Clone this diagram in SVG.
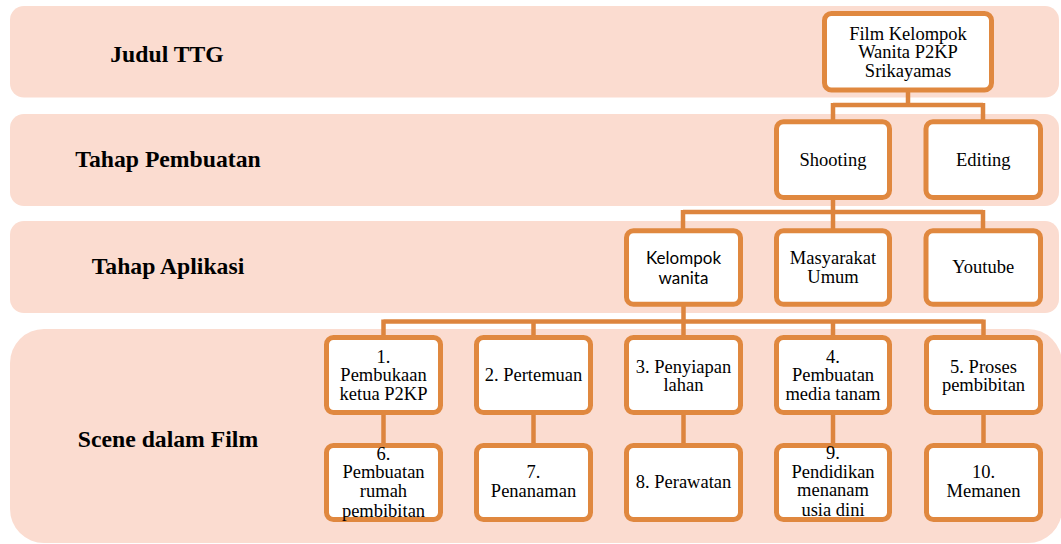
<svg xmlns="http://www.w3.org/2000/svg" width="1061" height="544" viewBox="0 0 1061 544">
<style>
.band{fill:#FBDCD0}
.lbl{font-family:"Liberation Serif","Times New Roman",serif;font-weight:bold;font-size:23.7px;fill:#000;text-anchor:middle}
.box{fill:#fff;stroke:#E0883F;stroke-width:5}
.t{font-family:"Liberation Serif","Times New Roman",serif;font-size:18.5px;fill:#000;text-anchor:middle}
.s{font-family:Lato,"Open Sans",sans-serif;font-size:17px;fill:#000;text-anchor:middle}
.con{fill:none;stroke:#DD853E;stroke-width:4.5}
</style>
<rect width="1061" height="544" fill="#fff"/>
<g id="bands">
<rect class="band" x="10" y="6" width="1049" height="91.5" rx="14"/>
<rect class="band" x="10" y="114" width="1049" height="92" rx="14"/>
<rect class="band" x="10" y="221" width="1049" height="92" rx="14"/>
<rect class="band" x="10" y="329" width="1052" height="214" rx="34"/>
</g>
<g id="labels">
<text class="lbl" x="167" y="61.5">Judul TTG</text>
<text class="lbl" x="168" y="167">Tahap Pembuatan</text>
<text class="lbl" x="168" y="273.5">Tahap Aplikasi</text>
<text class="lbl" x="168" y="447">Scene dalam Film</text>
</g>
<g id="connectors">
<path class="con" d="M908 92V105M833 105H983M833 103V120M983 103V120"/>
<path class="con" d="M833 200V212M683 212H983M683 210V229M833 210V229M983 210V229"/>
<path class="con" d="M683.5 306V321.5M383.5 321.5H983.5M383.5 319.5V336M533.5 319.5V336M683.5 319.5V336M833 319.5V336M983.5 319.5V336"/>
<path class="con" d="M383.5 415V444M533.5 415V444M683.5 415V444M833 415V444M983.5 415V444"/>
</g>
<g id="n-film">
<rect class="box" x="824.5" y="13.5" width="167" height="76.5" rx="7"/>
<text class="t" x="908" y="39.5">Film Kelompok</text>
<text class="t" x="908" y="58.3">Wanita P2KP</text>
<text class="t" x="908" y="77">Srikayamas</text>
</g>
<g id="n-shooting">
<rect class="box" x="776.5" y="121.8" width="113" height="75.7" rx="7"/>
<text class="t" x="833" y="166.3">Shooting</text>
</g>
<g id="n-editing">
<rect class="box" x="926" y="121.8" width="114.5" height="75.7" rx="7"/>
<text class="t" x="983.3" y="166.3">Editing</text>
</g>
<g id="n-kelompok">
<rect class="box" x="626.5" y="230.8" width="114" height="73.4" rx="7"/>
<text class="s" x="683.5" y="263.5">Kelompok</text>
<text class="s" x="683.5" y="284">wanita</text>
</g>
<g id="n-masyarakat">
<rect class="box" x="776.5" y="230.8" width="113" height="73.4" rx="7"/>
<text class="t" x="833" y="263.5">Masyarakat</text>
<text class="t" x="833" y="282.5">Umum</text>
</g>
<g id="n-youtube">
<rect class="box" x="926" y="230.8" width="114.5" height="73.4" rx="7"/>
<text class="t" x="983.3" y="273.3">Youtube</text>
</g>
<g id="n-1">
<rect class="box" x="326.5" y="337.5" width="114" height="75" rx="7"/>
<text class="t" x="383.5" y="362.7">1.</text>
<text class="t" x="383.5" y="381.3">Pembukaan</text>
<text class="t" x="383.5" y="400">ketua P2KP</text>
</g>
<g id="n-2">
<rect class="box" x="476.5" y="337.5" width="114" height="75" rx="7"/>
<text class="t" x="533.5" y="381">2. Pertemuan</text>
</g>
<g id="n-3">
<rect class="box" x="626.5" y="337.5" width="114" height="75" rx="7"/>
<text class="t" x="683.5" y="372.5">3. Penyiapan</text>
<text class="t" x="683.5" y="391.3">lahan</text>
</g>
<g id="n-4">
<rect class="box" x="776.5" y="337.5" width="113" height="75" rx="7"/>
<text class="t" x="833" y="362.7">4.</text>
<text class="t" x="833" y="381.3">Pembuatan</text>
<text class="t" x="833" y="400">media tanam</text>
</g>
<g id="n-5">
<rect class="box" x="926.5" y="337.5" width="114" height="75" rx="7"/>
<text class="t" x="983.5" y="372.5">5. Proses</text>
<text class="t" x="983.5" y="391.3">pembibitan</text>
</g>
<g id="n-6">
<rect class="box" x="326.5" y="445.5" width="114" height="74" rx="7"/>
<text class="t" x="383.5" y="459.5">6.</text>
<text class="t" x="383.5" y="478.3">Pembuatan</text>
<text class="t" x="383.5" y="497">rumah</text>
<text class="t" x="383.5" y="516.7">pembibitan</text>
</g>
<g id="n-7">
<rect class="box" x="476.5" y="445.5" width="114" height="74" rx="7"/>
<text class="t" x="533.5" y="478.3">7.</text>
<text class="t" x="533.5" y="497">Penanaman</text>
</g>
<g id="n-8">
<rect class="box" x="626.5" y="445.5" width="114" height="74" rx="7"/>
<text class="t" x="683.5" y="488">8. Perawatan</text>
</g>
<g id="n-9">
<rect class="box" x="776.5" y="445.5" width="113" height="74" rx="7"/>
<text class="t" x="833" y="459">9.</text>
<text class="t" x="833" y="477.7">Pendidikan</text>
<text class="t" x="833" y="496.4">menanam</text>
<text class="t" x="833" y="515.5">usia dini</text>
</g>
<g id="n-10">
<rect class="box" x="926.5" y="445.5" width="114" height="74" rx="7"/>
<text class="t" x="983.5" y="478.3">10.</text>
<text class="t" x="983.5" y="497">Memanen</text>
</g>
</svg>
